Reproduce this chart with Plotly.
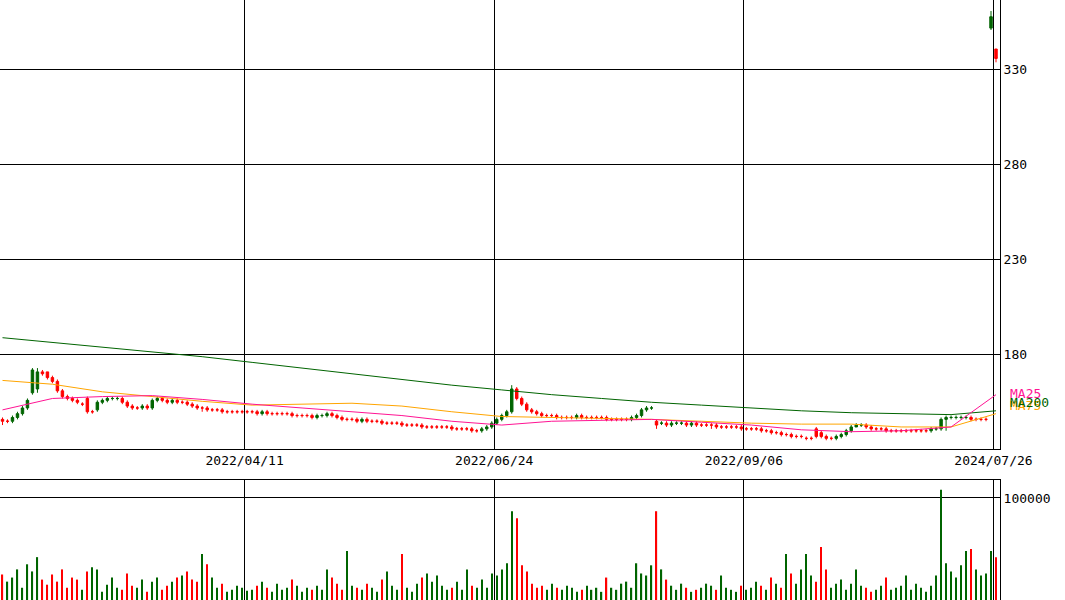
import plotly.graph_objects as go

# DATA
opens = [
    146, 145, 145, 147, 149, 152, 160, 162, 171, 171,
    168, 166, 161, 158, 157, 156, 154, 157, 150, 151,
    155, 156, 157, 157, 157, 155, 153, 152, 152, 153,
    152, 156, 157, 156, 155, 156, 155, 155, 154, 153,
    152, 152, 151, 151, 151, 150, 150, 150, 150, 150,
    150, 150, 149, 150, 149, 149, 149, 149, 149, 148,
    148, 148, 148, 147, 148, 148, 149, 148, 147, 146,
    146, 146, 145, 146, 145, 145, 145, 144, 144, 144,
    144, 143, 143, 143, 143, 142, 142, 142, 142, 142,
    142, 141, 141, 141, 141, 140, 140, 141, 142, 144,
    146, 148, 150, 162, 157, 154, 151, 150, 149, 148,
    148, 148, 147, 147, 147, 147, 148, 147, 147, 147,
    147, 147, 146, 146, 146, 146, 146, 147, 148, 151,
    152, 145, 144, 144, 143, 144, 144, 144, 143, 144,
    143, 143, 143, 143, 142, 142, 142, 142, 142, 141,
    141, 141, 141, 140, 140, 139, 139, 138, 138, 137,
    137, 136, 136, 141, 139, 137, 136, 136, 137, 138,
    140, 142, 143, 143, 142, 141, 141, 141, 140, 140,
    140, 140, 140, 140, 140, 140, 140, 141, 141, 146,
    147, 147, 147, 147, 147, 146, 146, 146, 352, 341,
]
closes = [
    145, 145, 147, 149, 152, 156, 172, 171, 170, 168,
    166, 161, 158, 157, 156, 155, 154, 150, 150, 155,
    156, 157, 157, 157, 155, 153, 152, 152, 153, 152,
    156, 157, 156, 155, 156, 155, 155, 154, 153, 152,
    152, 151, 151, 151, 150, 150, 150, 150, 150, 150,
    150, 149, 150, 149, 149, 149, 149, 149, 148, 148,
    148, 148, 147, 148, 148, 149, 148, 147, 146, 146,
    146, 145, 146, 145, 145, 145, 144, 144, 144, 144,
    143, 143, 143, 143, 142, 142, 142, 142, 142, 142,
    141, 141, 141, 141, 140, 140, 141, 142, 144, 146,
    148, 150, 162, 157, 154, 151, 150, 149, 148, 148,
    148, 147, 147, 147, 147, 148, 147, 147, 147, 147,
    147, 146, 146, 146, 146, 146, 147, 148, 151, 152,
    152, 143, 144, 143, 144, 144, 144, 143, 144, 143,
    143, 143, 143, 142, 142, 142, 142, 142, 141, 141,
    141, 141, 140, 140, 139, 139, 138, 138, 137, 137,
    137, 136, 136, 137, 137, 136, 136, 137, 138, 140,
    142, 143, 143, 142, 141, 141, 141, 140, 140, 140,
    140, 140, 140, 140, 140, 140, 141, 141, 146, 147,
    147, 147, 147, 147, 146, 146, 146, 146, 358, 336,
]
highs = [
    147, 146, 148, 150, 153, 157, 173, 173, 172, 171,
    169, 167, 162, 159, 158, 157, 155, 158, 151, 156,
    157, 158, 158, 158, 158, 156, 154, 153, 154, 154,
    157, 158, 158, 157, 157, 157, 156, 156, 155, 154,
    153, 153, 152, 152, 152, 151, 151, 151, 151, 151,
    151, 151, 151, 151, 150, 150, 150, 150, 150, 149,
    149, 149, 149, 149, 149, 150, 150, 149, 148, 147,
    147, 147, 147, 147, 146, 146, 146, 145, 145, 145,
    145, 144, 144, 144, 144, 143, 143, 143, 143, 143,
    143, 142, 142, 142, 142, 141, 142, 143, 145, 147,
    149, 151, 164, 163, 158, 155, 152, 151, 150, 149,
    149, 149, 148, 148, 148, 149, 149, 148, 148, 148,
    148, 148, 147, 147, 147, 147, 148, 149, 152, 153,
    153, 146, 145, 145, 145, 145, 145, 145, 145, 145,
    144, 144, 144, 144, 143, 143, 143, 143, 143, 142,
    142, 142, 142, 141, 141, 140, 140, 139, 139, 138,
    138, 137, 137, 142, 140, 138, 137, 138, 139, 141,
    143, 144, 144, 144, 143, 142, 142, 142, 141, 141,
    141, 141, 141, 141, 141, 141, 142, 142, 147, 148,
    148, 148, 148, 148, 148, 147, 147, 147, 361, 341,
]
lows = [
    143, 144, 144, 146, 148, 151, 159, 160, 169, 167,
    165, 160, 157, 156, 155, 154, 153, 149, 149, 150,
    154, 155, 156, 156, 154, 152, 151, 151, 151, 151,
    151, 155, 155, 154, 154, 154, 154, 153, 152, 151,
    150, 150, 150, 150, 149, 149, 149, 149, 149, 149,
    149, 148, 148, 148, 148, 148, 148, 148, 147, 147,
    147, 147, 146, 146, 147, 147, 147, 146, 145, 145,
    145, 144, 144, 144, 144, 144, 143, 143, 143, 143,
    142, 142, 142, 142, 141, 141, 141, 141, 141, 141,
    140, 140, 140, 140, 139, 139, 139, 140, 141, 143,
    145, 147, 149, 156, 153, 150, 149, 148, 147, 147,
    147, 146, 146, 146, 146, 146, 146, 146, 146, 146,
    146, 145, 145, 145, 145, 145, 145, 146, 147, 150,
    151, 141, 143, 142, 142, 143, 143, 142, 142, 142,
    142, 142, 141, 141, 141, 141, 141, 141, 140, 140,
    140, 140, 139, 139, 138, 138, 137, 137, 136, 136,
    136, 135, 135, 136, 136, 135, 135, 135, 136, 137,
    139, 142, 142, 141, 140, 140, 140, 139, 139, 139,
    139, 139, 139, 139, 139, 139, 139, 140, 140, 140,
    146, 146, 146, 146, 145, 145, 145, 145, 351, 334,
]
volumes = [
    25000, 18000, 22000, 30000, 12000, 35000, 28000, 42000, 20000, 15000,
    25000, 18000, 30000, 12000, 22000, 20000, 10000, 28000, 32000, 30000,
    8000, 15000, 22000, 12000, 10000, 26000, 14000, 12000, 20000, 8000,
    18000, 22000, 10000, 14000, 18000, 22000, 24000, 28000, 20000, 18000,
    45000, 35000, 22000, 12000, 16000, 8000, 10000, 14000, 12000, 9000,
    10000, 14000, 18000, 12000, 8000, 16000, 10000, 12000, 20000, 14000,
    8000, 12000, 10000, 14000, 10000, 30000, 22000, 16000, 10000, 48000,
    14000, 12000, 10000, 16000, 12000, 8000, 20000, 28000, 14000, 10000,
    45000, 12000, 8000, 16000, 22000, 26000, 18000, 24000, 14000, 10000,
    12000, 18000, 10000, 30000, 14000, 12000, 20000, 12000, 26000, 24000,
    30000, 36000, 87000, 80000, 34000, 28000, 16000, 12000, 14000, 10000,
    16000, 12000, 10000, 14000, 12000, 8000, 10000, 14000, 10000, 12000,
    8000, 22000, 12000, 10000, 16000, 18000, 12000, 36000, 26000, 24000,
    34000, 87000, 30000, 20000, 14000, 10000, 16000, 12000, 8000, 10000,
    12000, 16000, 14000, 10000, 24000, 12000, 10000, 8000, 14000, 10000,
    12000, 18000, 14000, 10000, 22000, 16000, 12000, 45000, 26000, 16000,
    30000, 45000, 24000, 18000, 52000, 30000, 12000, 16000, 20000, 10000,
    16000, 30000, 14000, 12000, 8000, 10000, 14000, 22000, 10000, 12000,
    14000, 24000, 10000, 16000, 12000, 8000, 14000, 24000, 108000, 36000,
    28000, 22000, 34000, 48000, 50000, 30000, 24000, 26000, 48000, 42000,
]
ma_idx = [0, 10, 20, 30, 40, 50, 60, 70, 80, 90, 100,
          110, 120, 130, 140, 150, 160, 170, 180, 190, 199]
ma200 = [189, 186.5, 184, 181.5, 179, 176, 173, 170, 167, 164, 161.5,
         159, 157, 155, 153.5, 152, 150.5, 149.5, 149, 148.5, 150.5]
ma75 = [166.5, 164.5, 160.5, 158, 155.5, 153.5, 154, 154.5, 153, 150, 147.5,
        147, 146.5, 146, 145, 144, 143.5, 143.5, 142, 142, 149]
ma25 = [151, 157, 158, 158.5, 156.5, 154, 152, 150, 148, 145, 143,
        145, 145.5, 146, 144.5, 143, 140.5, 139.5, 140, 142, 159]
date_ticks = [48.5, 98.5, 148.5, 198.5]
date_labels = ["2022/04/11", "2022/06/24", "2022/09/06", "2024/07/26"]

GREEN = "#006400"
RED = "#ff0000"
idx = list(range(len(closes)))
vol_colors = [GREEN if c >= o else RED for o, c in zip(opens, closes)]

fig = go.Figure()
fig.add_trace(go.Candlestick(
    x=idx, open=opens, high=highs, low=lows, close=closes,
    increasing=dict(line=dict(color=GREEN, width=1), fillcolor=GREEN),
    decreasing=dict(line=dict(color=RED, width=1), fillcolor=RED),
    whiskerwidth=0, showlegend=False, xaxis="x", yaxis="y",
))
for vals, col in [(ma200, "#006400"), (ma75, "#ffa500"), (ma25, "#ff1493")]:
    fig.add_trace(go.Scatter(x=ma_idx, y=vals, mode="lines", line=dict(color=col, width=1),
                             showlegend=False, xaxis="x", yaxis="y"))
fig.add_trace(go.Bar(x=idx, y=volumes, marker_color=vol_colors, marker_line_width=0,
                     width=0.25, showlegend=False, xaxis="x2", yaxis="y2"))

axis_common = dict(showline=True, linecolor="black", linewidth=1, mirror=True,
                   gridcolor="black", gridwidth=1, zeroline=False)
fig.update_layout(
    width=1065, height=600,
    paper_bgcolor="white", plot_bgcolor="white",
    margin=dict(l=0, r=65, t=0, b=0),
    font=dict(family="DejaVu Sans Mono", size=13, color="black"),
    xaxis=dict(**axis_common, range=[-0.5, 199.8], tickvals=date_ticks, ticktext=date_labels,
               ticks="", rangeslider=dict(visible=False), anchor="y"),
    yaxis=dict(**axis_common, domain=[0.252, 1], range=[130.5, 366.8], side="right",
               tickvals=[180, 230, 280, 330], ticks=""),
    xaxis2=dict(**axis_common, range=[-0.5, 199.8], tickvals=date_ticks, showticklabels=False,
                ticks="", anchor="y2"),
    yaxis2=dict(**axis_common, domain=[0, 0.2], range=[0, 117600], side="right",
                tickvals=[100000], tickformat="d", ticks=""),
    annotations=[
        dict(xref="paper", yref="paper", x=1.0, y=1 - 393 / 600, xanchor="left", showarrow=False,
             text="MA25", font=dict(color="#ff1493", size=13), xshift=8),
        dict(xref="paper", yref="paper", x=1.0, y=1 - 415 / 600, xanchor="left", showarrow=False,
             text="MA75", font=dict(color="#ffa500", size=13), xshift=8),
        dict(xref="paper", yref="paper", x=1.0, y=1 - 412 / 600, xanchor="left", showarrow=False,
             text="MA200", font=dict(color="#006400", size=13), xshift=8),
    ],
)
fig.write_html("out.html", config={"displayModeBar": False},
               post_script="document.body.style.margin='0';")
